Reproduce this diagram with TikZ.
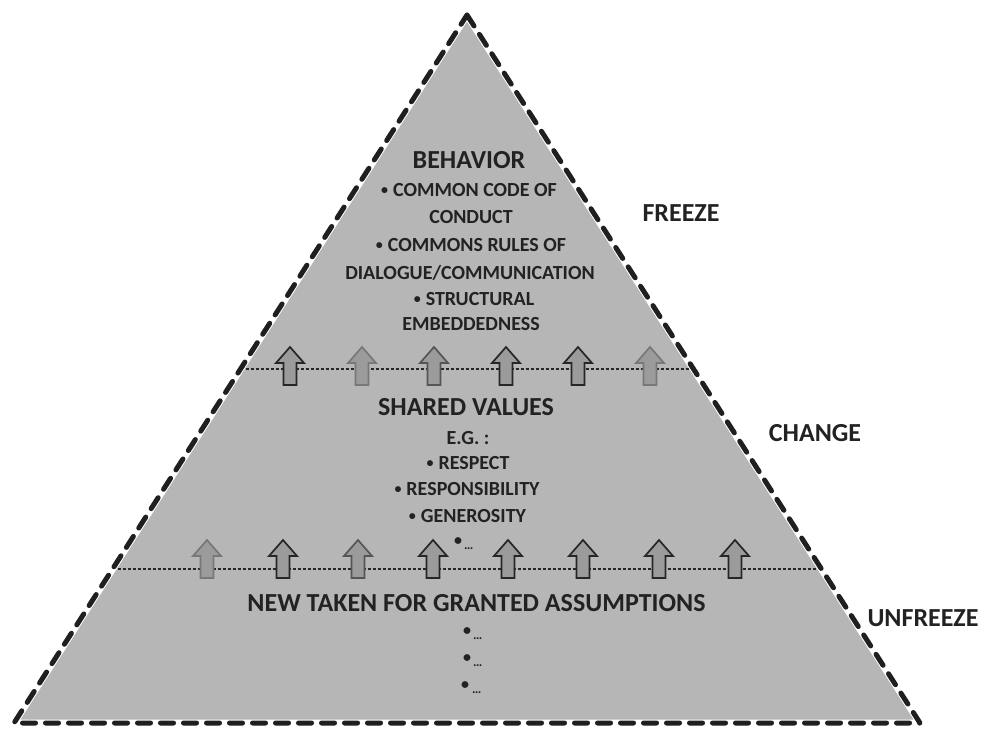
\documentclass[tikz,border=0pt]{standalone}
\usepackage{fontspec}
\setmainfont{Carlito}
\usetikzlibrary{calc}
\definecolor{pyrfill}{RGB}{182,182,182}
\definecolor{txtcol}{RGB}{34,34,34}
\definecolor{arrfill}{RGB}{155,155,155}
\definecolor{darkedge}{RGB}{38,38,38}
\definecolor{midedge}{RGB}{85,85,85}
\definecolor{lightedge}{RGB}{120,120,120}
\tikzset{
  headtxt/.style={font=\fontsize{26}{28}\selectfont\bfseries, text=txtcol, inner sep=0pt, anchor=base},
  itemtxt/.style={font=\fontsize{20}{22}\selectfont\bfseries, text=txtcol, inner sep=0pt, anchor=base},
  dottxt/.style={font=\fontsize{19}{22}\selectfont\bfseries, text=txtcol, inner sep=0pt, anchor=base west},
  levelline/.style={draw=darkedge, line width=1.2pt, dash pattern=on 3pt off 2pt},
  halo/.style={draw=white, line width=7pt, line join=round},
  border/.style={draw=black!88, line width=5pt, line cap=round, line join=round, dash pattern=on 13pt off 10pt},
  pics/uparrow/.style={code={
    \draw[fill=arrfill, draw=#1, line width=1.7pt, line join=miter]
      (0,-19) -- (14,-3) -- (6.5,-3) -- (6.5,19) -- (-6.5,19) -- (-6.5,-3) -- (-14,-3) -- cycle;
  }}
}
\newcommand{\smalldots}{{\fontsize{13}{13}\selectfont\ldots}}
\newcommand{\ibul}{{\fontsize{14}{14}\selectfont\raisebox{1.5pt}{•}}\hspace{5pt}}
\newcommand{\dbul}{{\fontsize{16}{16}\selectfont\raisebox{4pt}{•}}}
\begin{document}
\begin{tikzpicture}[x=1pt,y=-1pt]
\useasboundingbox (0,0) rectangle (984,729);
% pyramid corners
\coordinate (apex) at (467,15);
\coordinate (bl) at (14,723);
\coordinate (br) at (920,723);
\fill[pyrfill] (apex) -- (br) -- (bl) -- cycle;
% level lines
\coordinate (l1a) at ($(apex)!0.5!(bl)$);
\coordinate (l1b) at ($(apex)!0.5!(br)$);
\coordinate (l2a) at ($(apex)!0.7825!(bl)$);
\coordinate (l2b) at ($(apex)!0.7825!(br)$);
\draw[levelline] (l1a) -- (l1b);
\draw[levelline] (l2a) -- (l2b);
% upper arrows
\pic (ua1) at (290,366) {uparrow=darkedge};
\pic (ua2) at (362,366) {uparrow=lightedge};
\pic (ua3) at (434,366) {uparrow=midedge};
\pic (ua4) at (506,366) {uparrow=darkedge};
\pic (ua5) at (578,366) {uparrow=darkedge};
\pic (ua6) at (650,366) {uparrow=lightedge};
% lower arrows
\pic (la1) at (207,559) {uparrow=lightedge};
\pic (la2) at (283,559) {uparrow=darkedge};
\pic (la3) at (358,559) {uparrow=midedge};
\pic (la4) at (433,559) {uparrow=darkedge};
\pic (la5) at (508,559) {uparrow=darkedge};
\pic (la6) at (583,559) {uparrow=darkedge};
\pic (la7) at (659,559) {uparrow=darkedge};
\pic (la8) at (735,559) {uparrow=darkedge};
% border
\draw[halo] (apex) -- (br) -- (bl) -- cycle;
\draw[border] (apex) -- (br) -- (bl) -- cycle;
% behavior block
\node[headtxt] (behav) at (469,168.2) {BEHAVIOR};
\node[itemtxt] (b1) at (469,196.3) {\ibul COMMON CODE OF};
\node[itemtxt] (b2) at (471,223.3) {CONDUCT};
\node[itemtxt] (b3) at (471,251.3) {\ibul COMMONS RULES OF};
\node[itemtxt] (b4) at (470,279.3) {DIALOGUE/COMMUNICATION};
\node[itemtxt] (b5) at (474,305.3) {\ibul STRUCTURAL};
\node[itemtxt] (b6) at (471,330.3) {EMBEDDEDNESS};
% shared values block
\node[headtxt] (shared) at (466,415.2) {SHARED VALUES};
\node[itemtxt] (s1) at (468,444.3) {E.G. :};
\node[itemtxt] (s2) at (468,469.3) {\ibul RESPECT};
\node[itemtxt] (s3) at (467,495.3) {\ibul RESPONSIBILITY};
\node[itemtxt] (s4) at (467.5,522.3) {\ibul GENEROSITY};
\node[dottxt] (s5) at (454,549) {\dbul\hspace{2pt}\smalldots};
% assumptions block
\node[headtxt] (assump) at (476.5,611.2) {NEW TAKEN FOR GRANTED ASSUMPTIONS};
\node[dottxt] (a1) at (463,639) {\dbul\hspace{2pt}\smalldots};
\node[dottxt] (a2) at (463,666) {\dbul\hspace{2pt}\smalldots};
\node[dottxt] (a3) at (461,693) {\dbul\hspace{3pt}\smalldots};
% phase labels
\node[headtxt] (freeze) at (681,221.2) {FREEZE};
\node[headtxt] (change) at (815,441.2) {CHANGE};
\node[headtxt] (unfreeze) at (923,626.2) {UNFREEZE};
\end{tikzpicture}
\end{document}
